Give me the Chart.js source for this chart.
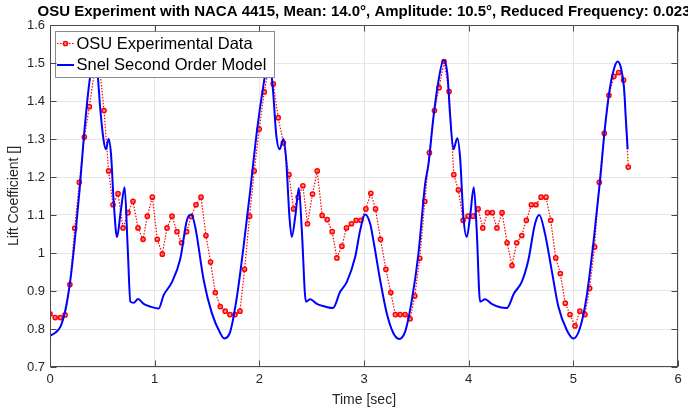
<!DOCTYPE html>
<html>
<head>
<meta charset="utf-8">
<script src="https://cdn.jsdelivr.net/npm/chart.js@4/dist/chart.umd.min.js"></script>
<style>
  body { margin: 0; background: #fff; }
</style>
</head>
<body>
<canvas id="myChart" width="688" height="413"></canvas>
<script>
// OSU experimental data (red dotted with circles)
const osuTime = [0.00, 0.05, 0.10, 0.144, 0.19, 0.236, 0.28, 0.328, 0.376, 0.42, 0.47, 0.516, 0.56, 0.602, 0.65, 0.698, 0.745, 0.793, 0.841, 0.889, 0.93, 0.978, 1.025, 1.073, 1.118, 1.166, 1.213, 1.257, 1.305, 1.35, 1.395, 1.443, 1.49, 1.534, 1.579, 1.627, 1.674, 1.719, 1.767, 1.815, 1.859, 1.907, 1.951, 1.999, 2.047, 2.09, 2.133, 2.18, 2.23, 2.283, 2.327, 2.371, 2.416, 2.46, 2.508, 2.553, 2.60, 2.648, 2.696, 2.741, 2.789, 2.833, 2.88, 2.925, 2.97, 3.018, 3.065, 3.11, 3.158, 3.209, 3.256, 3.30, 3.345, 3.393, 3.44, 3.485, 3.533, 3.581, 3.625, 3.673, 3.717, 3.765, 3.813, 3.858, 3.902, 3.947, 3.994, 4.042, 4.09, 4.135, 4.18, 4.226, 4.27, 4.319, 4.367, 4.414, 4.459, 4.507, 4.551, 4.599, 4.643, 4.692, 4.739, 4.784, 4.832, 4.876, 4.923, 4.968, 5.016, 5.063, 5.111, 5.156, 5.203, 5.248, 5.296, 5.34, 5.388, 5.433, 5.48, 5.525];
const osuLift = [0.84, 0.83, 0.83, 0.837, 0.917, 1.065, 1.186, 1.305, 1.385, 1.47, 1.50, 1.375, 1.216, 1.127, 1.156, 1.066, 1.106, 1.136, 1.066, 1.036, 1.097, 1.147, 1.036, 0.997, 1.066, 1.097, 1.056, 1.027, 1.056, 1.096, 1.127, 1.147, 1.046, 0.976, 0.896, 0.859, 0.847, 0.838, 0.838, 0.847, 0.957, 1.097, 1.216, 1.326, 1.424, 1.49, 1.445, 1.356, 1.29, 1.206, 1.116, 1.147, 1.177, 1.077, 1.155, 1.216, 1.099, 1.088, 1.056, 0.987, 1.018, 1.066, 1.077, 1.086, 1.086, 1.116, 1.157, 1.116, 1.036, 0.957, 0.896, 0.838, 0.838, 0.838, 0.827, 0.887, 0.986, 1.136, 1.264, 1.375, 1.435, 1.504, 1.425, 1.206, 1.166, 1.086, 1.097, 1.097, 1.116, 1.066, 1.106, 1.106, 1.066, 1.106, 1.027, 0.967, 1.027, 1.046, 1.086, 1.127, 1.127, 1.147, 1.147, 1.086, 0.987, 0.946, 0.868, 0.838, 0.808, 0.847, 0.838, 0.907, 1.016, 1.186, 1.315, 1.415, 1.465, 1.475, 1.455, 1.226];

// Snel second order model (blue solid)
const snelTime = [0, 0.05, 0.10, 0.147, 0.195, 0.243, 0.284, 0.322, 0.37, 0.40, 0.43, 0.455, 0.48, 0.513, 0.535, 0.56, 0.583, 0.608, 0.64, 0.676, 0.713, 0.742, 0.768, 0.80, 0.841, 0.895, 0.958, 1.038, 1.086, 1.166, 1.245, 1.308, 1.35, 1.388, 1.468, 1.547, 1.627, 1.665, 1.722, 1.786, 1.849, 1.913, 1.977, 2.04, 2.07, 2.095, 2.13, 2.161, 2.193, 2.231, 2.257, 2.288, 2.31, 2.345, 2.378, 2.406, 2.445, 2.486, 2.55, 2.629, 2.703, 2.772, 2.836, 2.916, 2.963, 3.01, 3.059, 3.09, 3.154, 3.218, 3.281, 3.336, 3.393, 3.457, 3.52, 3.584, 3.616, 3.663, 3.711, 3.759, 3.797, 3.822, 3.854, 3.892, 3.918, 3.95, 3.982, 4.015, 4.049, 4.077, 4.109, 4.157, 4.22, 4.30, 4.364, 4.434, 4.507, 4.57, 4.634, 4.675, 4.729, 4.793, 4.857, 4.936, 5.0, 5.063, 5.127, 5.191, 5.255, 5.302, 5.35, 5.391, 5.423, 5.455, 5.484, 5.503, 5.519];
const snelLift = [0.782, 0.79, 0.806, 0.85, 0.93, 1.05, 1.17, 1.30, 1.435, 1.49, 1.505, 1.47, 1.38, 1.295, 1.273, 1.30, 1.26, 1.138, 1.042, 1.11, 1.173, 1.016, 0.872, 0.869, 0.879, 0.866, 0.859, 0.854, 0.889, 0.924, 0.985, 1.086, 1.101, 1.068, 0.929, 0.841, 0.789, 0.775, 0.793, 0.885, 1.016, 1.164, 1.321, 1.443, 1.49, 1.505, 1.43, 1.313, 1.273, 1.30, 1.243, 1.094, 1.042, 1.10, 1.171, 1.059, 0.872, 0.878, 0.866, 0.859, 0.855, 0.898, 0.924, 0.99, 1.059, 1.101, 1.077, 1.033, 0.929, 0.841, 0.789, 0.774, 0.793, 0.876, 0.998, 1.182, 1.234, 1.356, 1.452, 1.507, 1.47, 1.365, 1.273, 1.302, 1.251, 1.094, 1.042, 1.10, 1.173, 1.059, 0.872, 0.878, 0.866, 0.857, 0.855, 0.894, 0.924, 0.981, 1.077, 1.10, 1.051, 0.955, 0.859, 0.798, 0.775, 0.802, 0.885, 1.025, 1.19, 1.33, 1.435, 1.487, 1.504, 1.487, 1.435, 1.347, 1.273];

const xTickValues = [0, 1, 2, 3, 4, 5, 6];
const xTickLabels = ['0', '1', '2', '3', '4', '5', '6'];
const yTickValues = [0.7, 0.8, 0.9, 1.0, 1.1, 1.2, 1.3, 1.4, 1.5, 1.6];
const yTickLabels = ['0.7', '0.8', '0.9', '1', '1.1', '1.2', '1.3', '1.4', '1.5', '1.6'];

const seriesNames = ['OSU Experimental Data', 'Snel Second Order Model'];
const titleText = 'OSU Experiment with NACA 4415, Mean: 14.0\u00b0, Amplitude: 10.5\u00b0, Reduced Frequency: 0.023';

const FONT = '"Liberation Sans", Arial, Helvetica, sans-serif';
Chart.defaults.font.family = FONT;
Chart.defaults.color = '#262626';

const ctx = document.getElementById('myChart').getContext('2d');

// matlab-ish axes: box frame, inward ticks, legend inside, title
const matlabAxes = {
    id: 'matlabAxes',
    afterDatasetsDraw(chart) {
        const {ctx, chartArea: {left, top, right, bottom}, scales: {x, y}} = chart;
        ctx.save();

        // legend box
        const lx = 55, ly = 31, lw = 219, lh = 46;
        ctx.fillStyle = '#ffffff';
        ctx.fillRect(lx, ly, lw, lh);
        ctx.strokeStyle = '#8c8c8c';
        ctx.lineWidth = 1;
        ctx.strokeRect(lx + 0.5, ly + 0.5, lw, lh);

        // red sample
        ctx.strokeStyle = '#ff0000';
        ctx.lineWidth = 1.2;
        ctx.setLineDash([1.5, 1.5]);
        ctx.beginPath();
        ctx.moveTo(57, 43.5);
        ctx.lineTo(74, 43.5);
        ctx.stroke();
        ctx.setLineDash([]);
        ctx.lineWidth = 1.5;
        ctx.fillStyle = 'rgba(255,110,110,0.6)';
        ctx.beginPath();
        ctx.arc(65.5, 43.5, 2.1, 0, Math.PI * 2);
        ctx.fill();
        ctx.stroke();

        // blue sample
        ctx.strokeStyle = '#0000ff';
        ctx.lineWidth = 2;
        ctx.beginPath();
        ctx.moveTo(57, 65);
        ctx.lineTo(74, 65);
        ctx.stroke();

        ctx.fillStyle = '#000000';
        ctx.font = '16.5px ' + FONT;
        ctx.textBaseline = 'middle';
        ctx.textAlign = 'left';
        ctx.fillText(seriesNames[0], 76.5, 44);
        ctx.fillText(seriesNames[1], 76.5, 65.5);

        // frame
        ctx.strokeStyle = '#4a4a4a';
        ctx.lineWidth = 1;
        const L = Math.round(left) + 0.5, R = Math.round(right) - 0.5;
        const T = Math.round(top) + 0.5, B = Math.round(bottom) - 0.5;
        ctx.strokeRect(L, T, R - L, B - T);

        // inward ticks
        ctx.beginPath();
        xTickValues.forEach(v => {
            const px = Math.round(x.getPixelForValue(v)) + 0.5;
            ctx.moveTo(px, B); ctx.lineTo(px, B - 6);
            ctx.moveTo(px, T); ctx.lineTo(px, T + 6);
        });
        yTickValues.forEach(v => {
            const py = Math.round(y.getPixelForValue(v)) + 0.5;
            ctx.moveTo(L, py); ctx.lineTo(L + 6, py);
            ctx.moveTo(R, py); ctx.lineTo(R - 6, py);
        });
        ctx.stroke();

        ctx.restore();
    },
    afterDraw(chart) {
        const {ctx, chartArea: {left, right}} = chart;
        ctx.save();
        ctx.fillStyle = '#000000';
        ctx.font = 'bold 15px ' + FONT;
        ctx.textAlign = 'center';
        ctx.textBaseline = 'middle';
        ctx.fillText(titleText, (left + right) / 2, 12);
        ctx.restore();
    }
};

const data = {
    datasets: [{
        label: seriesNames[0],
        data: osuTime.map((t, i) => ({x: t, y: osuLift[i]})),
        borderColor: '#ff0000',
        backgroundColor: 'rgba(255,255,255,0)',
        borderWidth: 1.2,
        borderDash: [1.5, 1.5],
        pointRadius: 2.1,
        pointBorderWidth: 1.5,
        pointBorderColor: '#ff0000',
        pointBackgroundColor: 'rgba(255,110,110,0.6)',
        tension: 0,
        order: 2
    }, {
        label: seriesNames[1],
        data: snelTime.map((t, i) => ({x: t, y: snelLift[i]})),
        borderColor: '#0000ff',
        borderWidth: 2,
        pointRadius: 0,
        cubicInterpolationMode: 'monotone',
        order: 1
    }]
};

const options = {
    responsive: false,
    animation: false,
    devicePixelRatio: 1,
    layout: {padding: {left: 0, top: 25, right: 10, bottom: 0}},
    plugins: {
        legend: {display: false},
        title: {display: false},
        tooltip: {enabled: false}
    },
    scales: {
        x: {
            type: 'linear',
            min: 0,
            max: 6,
            afterFit(scale) { scale.height = 46; },
            afterBuildTicks(scale) { scale.ticks = xTickValues.map(v => ({value: v})); },
            ticks: {
                padding: 5,
                font: {size: 13},
                color: '#262626',
                callback: (v) => xTickLabels[xTickValues.indexOf(v)]
            },
            grid: {color: '#e6e6e6', drawTicks: false},
            border: {display: false},
            title: {display: true, text: 'Time [sec]', font: {size: 14}, color: '#262626', padding: {top: 4, bottom: 4}}
        },
        y: {
            min: 0.7,
            max: 1.6,
            afterFit(scale) { scale.width = 50; },
            afterBuildTicks(scale) { scale.ticks = yTickValues.map(v => ({value: v})); },
            ticks: {
                padding: 5,
                font: {size: 13},
                color: '#262626',
                callback: (v) => yTickLabels[yTickValues.findIndex(t => Math.abs(t - v) < 1e-6)]
            },
            grid: {color: '#e6e6e6', drawTicks: false},
            border: {display: false},
            title: {display: true, text: 'Lift Coefficient []', font: {size: 14}, color: '#262626', padding: {top: 6, bottom: 4}}
        }
    }
};

const chart = new Chart(ctx, {
    type: 'line',
    data: data,
    options: options,
    plugins: [matlabAxes]
});
</script>
</body>
</html>
